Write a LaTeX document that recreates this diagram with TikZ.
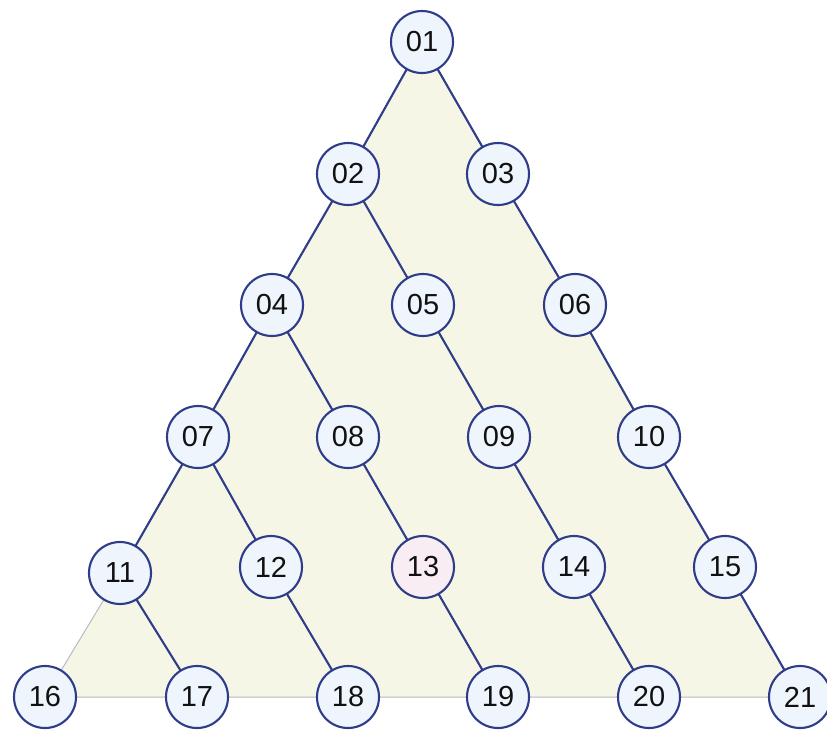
\documentclass[tikz,border=0pt]{standalone}
\usepackage{fontspec}
\setmainfont{Liberation Sans}
\definecolor{edgeblue}{HTML}{2E3C8A}
\definecolor{nodefill}{HTML}{EEF5FC}
\definecolor{pinkfill}{HTML}{F9EDF4}
\definecolor{trifill}{HTML}{F6F6E6}
\definecolor{trigray}{HTML}{B8BAC4}
\definecolor{txt}{HTML}{111111}
\tikzset{
  ball/.style={circle, draw=edgeblue, line width=2.1pt, fill=nodefill, minimum size=62pt, inner sep=0pt, text=txt, font=\fontsize{29}{34}\selectfont},
  hot/.style={ball, fill=pinkfill},
  link/.style={draw=edgeblue, line width=2.1pt},
  tri/.style={fill=trifill, draw=trigray, line width=1pt}
}
\begin{document}
\begin{tikzpicture}[x=1pt,y=-1pt]
\useasboundingbox (0,0) rectangle (827,729);
\coordinate (c01) at (422,42);
\coordinate (c02) at (348,174);
\coordinate (c03) at (498,174);
\coordinate (c04) at (272,305);
\coordinate (c05) at (423,305);
\coordinate (c06) at (575,305);
\coordinate (c07) at (198,437);
\coordinate (c08) at (348,437);
\coordinate (c09) at (499,437);
\coordinate (c10) at (649,437);
\coordinate (c11) at (120,573);
\coordinate (c12) at (271,567);
\coordinate (c13) at (423,567);
\coordinate (c14) at (574,567);
\coordinate (c15) at (725,567);
\coordinate (c16) at (45,697);
\coordinate (c17) at (197,697);
\coordinate (c18) at (348,697);
\coordinate (c19) at (498,697);
\coordinate (c20) at (649,697);
\coordinate (c21) at (800,697);
\path[tri] (c01) -- (c02) -- (c04) -- (c07) -- (c11) -- (c16) -- (c21) -- (c15) -- (c10) -- (c06) -- (c03) -- cycle;
\foreach \a/\b in {01/02,01/03,02/04,02/05,03/06,04/07,04/08,05/09,06/10,07/11,07/12,08/13,09/14,10/15,11/17,12/18,13/19,14/20,15/21}
  \draw[link] (c\a) -- (c\b);
\node[ball] (n01) at (c01) {01};
\node[ball] (n02) at (c02) {02};
\node[ball] (n03) at (c03) {03};
\node[ball] (n04) at (c04) {04};
\node[ball] (n05) at (c05) {05};
\node[ball] (n06) at (c06) {06};
\node[ball] (n07) at (c07) {07};
\node[ball] (n08) at (c08) {08};
\node[ball] (n09) at (c09) {09};
\node[ball] (n10) at (c10) {10};
\node[ball] (n11) at (c11) {11};
\node[ball] (n12) at (c12) {12};
\node[hot] (n13) at (c13) {13};
\node[ball] (n14) at (c14) {14};
\node[ball] (n15) at (c15) {15};
\node[ball] (n16) at (c16) {16};
\node[ball] (n17) at (c17) {17};
\node[ball] (n18) at (c18) {18};
\node[ball] (n19) at (c19) {19};
\node[ball] (n20) at (c20) {20};
\node[ball] (n21) at (c21) {21};
\end{tikzpicture}
\end{document}
